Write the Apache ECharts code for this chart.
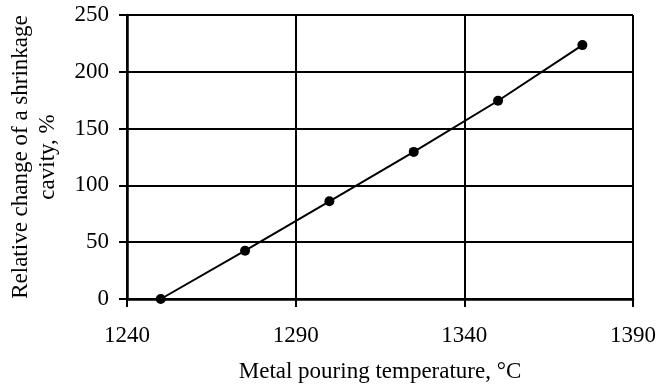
<!DOCTYPE html>
<html><head><meta charset="utf-8">
<script src="https://cdn.jsdelivr.net/npm/echarts@6/dist/echarts.min.js"></script>
<style>html,body{margin:0;padding:0;background:#fff}#c{width:670px;height:387px}</style>
</head><body><div id="c"></div>
<script>
const temperatures = [1250, 1275, 1300, 1325, 1350, 1375];
const relativeChange = [0, 42.5, 86, 129.5, 174.5, 223.5];
const xTicks = [1240, 1290, 1340, 1390];
const yTicks = [0, 50, 100, 150, 200, 250];
const xTitle = 'Metal pouring temperature, \u00B0C';
const yTitle = 'Relative change of a shrinkage\ncavity, %';

const font = 'Liberation Serif';
const fs = 23;
const chart = echarts.init(document.getElementById('c'), null, {renderer: 'canvas'});
chart.setOption({
  animation: false,
  backgroundColor: '#fff',
  grid: {left: 127, right: 37, top: 15, bottom: 88, containLabel: false, outerBoundsMode: 'none'},
  xAxis: {
    type: 'value', min: xTicks[0], max: xTicks[xTicks.length-1], interval: 50,
    name: xTitle, nameLocation: 'middle', nameGap: 61,
    nameTextStyle: {fontFamily: font, fontSize: fs, color: '#000'},
    axisLine: {show: true, onZero: false, lineStyle: {color: '#000', width: 2.5}},
    axisTick: {show: true, inside: false, length: 8, lineStyle: {color: '#000', width: 2}},
    axisLabel: {fontFamily: font, fontSize: fs, color: '#000', margin: 25, formatter: v => String(v)},
    splitLine: {show: true, lineStyle: {color: '#000', width: 2}}
  },
  yAxis: {
    type: 'value', min: yTicks[0], max: yTicks[yTicks.length-1], interval: 50,
    name: yTitle, nameLocation: 'middle', nameGap: 66, nameRotate: 90,
    nameTextStyle: {fontFamily: font, fontSize: fs, color: '#000', lineHeight: 27, align: 'center'},
    axisLine: {show: true, lineStyle: {color: '#000', width: 2.5}},
    axisTick: {show: true, inside: false, length: 8, lineStyle: {color: '#000', width: 2}},
    axisLabel: {fontFamily: font, fontSize: fs, color: '#000', margin: 18, formatter: v => String(v)},
    splitLine: {show: true, lineStyle: {color: '#000', width: 2}}
  },
  series: [{
    type: 'line',
    data: temperatures.map((t, i) => [t, relativeChange[i]]),
    lineStyle: {color: '#000', width: 2},
    itemStyle: {color: '#000'},
    symbol: 'circle', symbolSize: 10,
    z: 5
  }]
});
</script></body></html>
